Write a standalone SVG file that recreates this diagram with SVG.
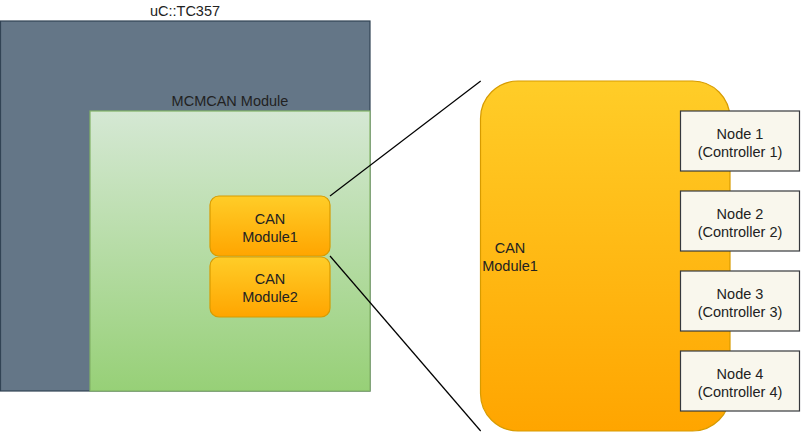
<svg xmlns="http://www.w3.org/2000/svg" width="801" height="433" viewBox="0 0 801 433">
<defs>
<linearGradient id="gGreen" x1="0" y1="0" x2="0" y2="1"><stop offset="0" stop-color="#d5e8d4"/><stop offset="1" stop-color="#97d077"/></linearGradient>
<linearGradient id="gOrange" x1="0" y1="0" x2="0" y2="1"><stop offset="0" stop-color="#ffcd28"/><stop offset="1" stop-color="#ffa500"/></linearGradient>
</defs>
<style>
text{font-family:"Liberation Sans",Arial,sans-serif;font-size:14.5px;fill:#222;text-anchor:middle}
.can{fill:url(#gOrange);stroke:#d79b00;stroke-width:1.2}
.node{fill:#f9f7ed;stroke:#36393d;stroke-width:1.2}
.conn{stroke:#000;stroke-width:1.2;fill:none}
</style>
<g id="uc">
<rect x="0.5" y="21" width="369.5" height="370" fill="#647687" stroke="#314354" stroke-width="1.2"/>
<text x="185" y="16">uC::TC357</text>
</g>
<g id="mcmcan">
<rect x="90" y="111" width="280" height="280" fill="url(#gGreen)" stroke="#82b366" stroke-width="1.2"/>
<text x="230" y="106">MCMCAN Module</text>
</g>
<g id="can1">
<rect class="can" x="210" y="196" width="120" height="60" rx="9"/>
<text x="270" y="223.5">CAN</text><text x="270" y="241.5">Module1</text>
</g>
<g id="can2">
<rect class="can" x="210" y="257" width="120" height="60" rx="9"/>
<text x="270" y="283.5">CAN</text><text x="270" y="301.5">Module2</text>
</g>
<g id="can1big">
<rect class="can" x="480.5" y="81" width="249.5" height="350" rx="37.5"/>
<text x="510" y="253">CAN</text><text x="510" y="271">Module1</text>
</g>
<g id="node1"><rect class="node" x="680.5" y="111" width="119" height="60"/><text x="740" y="138.5">Node 1</text><text x="740" y="156.5">(Controller 1)</text></g>
<g id="node2"><rect class="node" x="680.5" y="191" width="119" height="60"/><text x="740" y="218.5">Node 2</text><text x="740" y="236.5">(Controller 2)</text></g>
<g id="node3"><rect class="node" x="680.5" y="271" width="119" height="60"/><text x="740" y="298.5">Node 3</text><text x="740" y="316.5">(Controller 3)</text></g>
<g id="node4"><rect class="node" x="680.5" y="351" width="119" height="60"/><text x="740" y="378.5">Node 4</text><text x="740" y="396.5">(Controller 4)</text></g>
<g id="connectors">
<line class="conn" x1="330" y1="196" x2="480.7" y2="81"/>
<line class="conn" x1="330" y1="256" x2="480.7" y2="431"/>
</g>
</svg>
